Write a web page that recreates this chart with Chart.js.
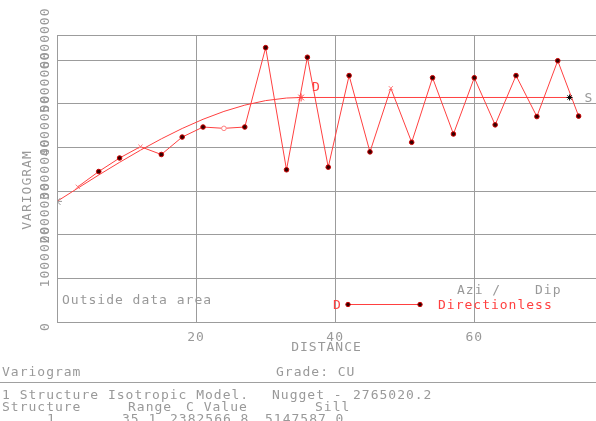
<!DOCTYPE html>
<html>
<head>
<meta charset="utf-8">
<script src="https://cdn.jsdelivr.net/npm/chart.js@4/dist/chart.umd.min.js"></script>
<style>
  html, body { margin: 0; padding: 0; background: #ffffff; overflow: hidden; }
  canvas { display: block; }
</style>
</head>
<body>
<canvas id="vario" width="596" height="421"></canvas>
<script>
// Experimental variogram (lag distance, gamma)
const lagDistance = [3, 6, 9, 12, 15, 18, 21, 24, 27, 30, 33, 36, 39, 42, 45, 48, 51, 54, 57, 60, 63, 66, 69, 72, 75];
const lagGamma = [3100000, 3450000, 3760000, 4020000, 3840000, 4240000, 4470000, 4440000, 4470000, 6290000,
                  3490000, 6070000, 3550000, 5650000, 3900000, 5360000, 4120000, 5600000, 4310000, 5600000,
                  4520000, 5650000, 4710000, 5990000, 4720000];

// Fitted isotropic spherical model (one structure)
const nugget = 2765020.2;
const structureRange = 35.1;
const cValue = 2382566.8;
const sill = 5147587.0;
const modelDistance = [0, 3, 6, 9, 12, 15, 18, 21, 24, 27, 30, 33, 35.1, 73.7];
const modelGamma = [2765020, 3070000, 3370000, 3661000, 3939000, 4199000, 4437000, 4648000, 4828000, 4972000,
                    5076000, 5135000, 5147587, 5147587];

// Axis ticks
const distanceTicks = [0, 20, 40, 60];
const gammaTicks = [0, 1000000, 2000000, 3000000, 4000000, 5000000, 6000000];
const distanceMax = 77.5;
const gammaMax = 6580000;

// Lags plotted with open / cross symbols
const crossLags = [3, 12, 48];
const openLags = [24];

const RED = '#ff4040';
const GREY = '#999999';
const GRID = '#9c9c9c';
const FONT = '13px "DejaVu Sans Mono", monospace';

const lagPoints = lagDistance.map((d, i) => ({ x: d, y: lagGamma[i] }));
const modelPoints = modelDistance.map((d, i) => ({ x: d, y: modelGamma[i] }));

const annotate = {
  id: 'annotate',
  beforeDraw(chart) {
    chart.ctx.letterSpacing = '1px';
  },
  afterDraw(chart) {
    const { ctx, chartArea: a, scales: { x, y } } = chart;
    ctx.save();
    ctx.letterSpacing = '1px';
    ctx.font = FONT;
    ctx.textBaseline = 'middle';
    ctx.fillStyle = GREY;

    // Vertical gamma tick labels, each reading upward from just below its gridline
    gammaTicks.forEach(v => {
      const py = y.getPixelForValue(v);
      ctx.save();
      ctx.translate(46, py + 9);
      ctx.rotate(-Math.PI / 2);
      ctx.textAlign = 'left';
      ctx.fillText(String(v), 0, 0);
      ctx.restore();
    });

    // Axis titles
    ctx.save();
    ctx.translate(28, 190);
    ctx.rotate(-Math.PI / 2);
    ctx.textAlign = 'center';
    ctx.fillText('VARIOGRAM', 0, 0);
    ctx.restore();
    ctx.textAlign = 'center';
    ctx.fillText('DISTANCE', (a.left + a.right) / 2, 348);

    // Labels on the model: D at the range, S at the end of the sill
    ctx.textAlign = 'left';
    ctx.fillStyle = RED;
    ctx.fillText('D', x.getPixelForValue(structureRange) + 11, y.getPixelForValue(sill) - 10);
    ctx.fillStyle = GREY;
    ctx.fillText('S', x.getPixelForValue(modelDistance[modelDistance.length - 1]) + 15, y.getPixelForValue(sill) + 1);

    // Legend block in the lower part of the plot
    ctx.fillText('Outside data area', a.left + 5, 301);
    ctx.fillText('Azi /', 457, 291);
    ctx.fillText('Dip', 535, 291);
    ctx.fillStyle = RED;
    ctx.fillText('D', 333, 306);
    ctx.fillText('Directionless', 438, 306);
    ctx.strokeStyle = RED;
    ctx.lineWidth = 1;
    ctx.beginPath();
    ctx.moveTo(348, 304.5);
    ctx.lineTo(420, 304.5);
    ctx.stroke();
    [348, 420].forEach(px => {
      ctx.beginPath();
      ctx.arc(px, 304.5, 2.2, 0, Math.PI * 2);
      ctx.fillStyle = '#300';
      ctx.fill();
      ctx.strokeStyle = '#c00';
      ctx.stroke();
    });

    // Report block under the chart
    ctx.fillStyle = GREY;
    ctx.textAlign = 'left';
    ctx.fillText('Variogram', 2, 372.5);
    ctx.fillText('Grade: CU', 276, 372.5);
    ctx.strokeStyle = '#a0a0a0';
    ctx.beginPath();
    ctx.moveTo(0, 382.5);
    ctx.lineTo(596, 382.5);
    ctx.stroke();
    ctx.fillText('1 Structure Isotropic Model.', 2, 396);
    ctx.fillText('Nugget -', 272, 396);
    ctx.fillText(nugget.toFixed(1), 353, 396);
    ctx.fillText('Structure', 2, 407.5);
    ctx.fillText('Range', 128, 407.5);
    ctx.fillText('C Value', 186, 407.5);
    ctx.fillText('Sill', 315, 407.5);
    ctx.fillText('1', 47, 419.5);
    ctx.fillText(structureRange.toFixed(1), 122, 419.5);
    ctx.fillText(cValue.toFixed(1), 170, 419.5);
    ctx.fillText(sill.toFixed(1), 265, 419.5);
    ctx.restore();
  }
};

new Chart(document.getElementById('vario'), {
  type: 'scatter',
  data: {
    datasets: [
      {
        label: 'Model',
        data: modelPoints,
        showLine: true,
        borderColor: RED,
        borderWidth: 1,
        pointStyle: 'star',
        pointRadius: c => (c.dataIndex === 0 ? 5 : (c.raw.x === structureRange ? 4 : (c.dataIndex === modelPoints.length - 1 ? 3 : 0))),
        pointBorderColor: c => (c.dataIndex === modelPoints.length - 1 ? '#000' : (c.dataIndex === 0 ? '#999' : RED)),
        pointBorderWidth: 1,
        pointHoverRadius: 0
      },
      {
        label: 'Directionless',
        data: lagPoints,
        showLine: true,
        borderColor: RED,
        borderWidth: 1,
        pointStyle: c => (crossLags.includes(c.raw.x) ? 'crossRot' : 'circle'),
        pointRadius: c => (crossLags.includes(c.raw.x) ? 3 : 2.3),
        pointBackgroundColor: c => (openLags.includes(c.raw.x) ? '#ffffff' : '#300'),
        pointBorderColor: c => (crossLags.includes(c.raw.x) || openLags.includes(c.raw.x) ? '#ff8080' : '#c00'),
        pointBorderWidth: 1,
        pointHoverRadius: 0
      }
    ]
  },
  options: {
    responsive: false,
    animation: false,
    devicePixelRatio: 1,
    layout: { autoPadding: false, padding: { top: 35, left: 0, right: 0, bottom: 0 } },
    plugins: { legend: { display: false }, tooltip: { enabled: false } },
    scales: {
      x: {
        type: 'linear',
        min: 0,
        max: distanceMax,
        afterBuildTicks: s => { s.ticks = distanceTicks.map(v => ({ value: v })); },
        afterFit: s => { s.height = 99; s.paddingRight = 0; s.paddingLeft = 0; },
        grid: { color: GRID, lineWidth: 1, drawTicks: false },
        border: { display: true, color: GRID, width: 1 },
        ticks: {
          color: GREY,
          font: { family: '"DejaVu Sans Mono", monospace', size: 13 },
          padding: 8,
          maxRotation: 0,
          callback: v => (v === 0 ? '' : String(v))
        }
      },
      y: {
        type: 'linear',
        min: 0,
        max: gammaMax,
        afterBuildTicks: s => { s.ticks = gammaTicks.concat([gammaMax]).map(v => ({ value: v })); },
        afterFit: s => { s.width = 57; },
        grid: { color: GRID, lineWidth: 1, drawTicks: false },
        border: { display: true, color: GRID, width: 1 },
        ticks: { display: false }
      }
    }
  },
  plugins: [annotate]
});
</script>
</body>
</html>
